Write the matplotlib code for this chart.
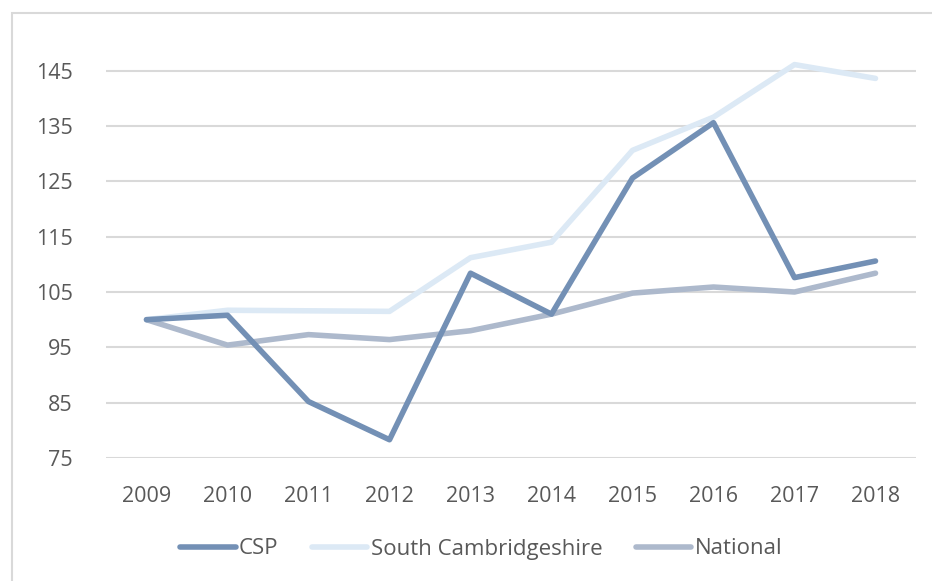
import matplotlib.pyplot as plt
from matplotlib.patches import Rectangle

years = [2009, 2010, 2011, 2012, 2013, 2014, 2015, 2016, 2017, 2018]
csp = [100, 100.8, 85.2, 78.3, 108.4, 101.0, 125.6, 135.6, 107.6, 110.6]
south_cambs = [100, 101.7, 101.6, 101.5, 111.2, 114.0, 130.6, 136.6, 146.1, 143.6]
national = [100, 95.4, 97.3, 96.4, 98.0, 101.0, 104.8, 105.9, 105.0, 108.4]
yticks = [75, 85, 95, 105, 115, 125, 135, 145]

plt.rcParams['font.family'] = ['Open Sans', 'DejaVu Sans']

fig = plt.figure(figsize=(9.32, 5.81), dpi=100)
W, H = 932, 581
# plot area in pixel coords: left 106, right 916, top ~43, bottom 458
ax = fig.add_axes([106 / W, 1 - 458 / H, (916 - 106) / W, (458 - 43) / H])

# outer chart frame (cut off at right and bottom like the reference)
fig.patches.append(Rectangle((12 / W, -0.1), 1.2, 1 - 13 / H + 0.1,
                             transform=fig.transFigure, fill=False,
                             edgecolor='#d9d9d9', linewidth=1.5))

x = list(range(len(years)))
ax.plot(x, csp, color='#7390b5', lw=4, label='CSP', solid_capstyle='round', zorder=3)
ax.plot(x, south_cambs, color='#dce9f5', lw=4, label='South Cambridgeshire',
        solid_capstyle='round', zorder=2)
ax.plot(x, national, color='#adb9cc', lw=4, label='National', solid_capstyle='round', zorder=2.5)

ax.set_xlim(-0.5, len(years) - 0.5)
ax.set_ylim(75, 150)
ax.set_yticks(yticks)
ax.set_xticks(x)
ax.set_xticklabels([str(y) for y in years])
ax.yaxis.grid(True, color='#d9d9d9', lw=1.5)
ax.set_axisbelow(True)
for s in ax.spines.values():
    s.set_visible(False)
ax.tick_params(length=0, labelsize=15.5, colors='#595959')
ax.tick_params(axis='x', pad=20)
ax.tick_params(axis='y', pad=24)

leg = fig.legend(loc='center', bbox_to_anchor=(481 / W, 1 - 549 / H), ncol=3,
                 frameon=False, fontsize=16, handlelength=2.5, columnspacing=1.5,
                 handletextpad=0.15)
for t in leg.get_texts():
    t.set_color('#595959')

fig.savefig('out.png', dpi=100)
